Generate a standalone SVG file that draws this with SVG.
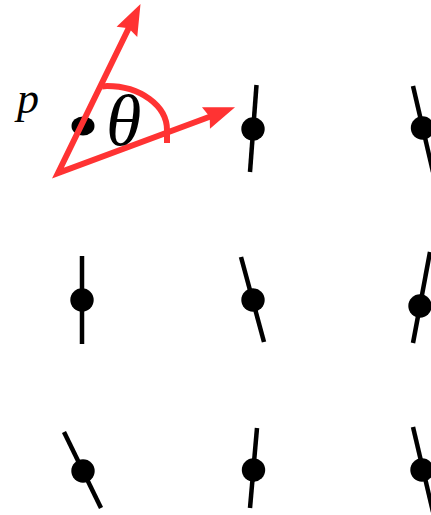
<svg xmlns="http://www.w3.org/2000/svg" width="431" height="515" viewBox="0 0 431 515">
<defs>
<style>
.rod{stroke:#000;stroke-width:4.5;stroke-linecap:butt;fill:none}
.dot{fill:#000}
.red{stroke:#ff3333;stroke-width:6;fill:none}
.lbl{font-family:"Liberation Serif",serif;font-style:italic;fill:#000}
</style>
<marker id="ah" viewBox="-12 -14 36 28" refX="0" refY="0" markerWidth="36" markerHeight="28" markerUnits="userSpaceOnUse" orient="auto-start-reverse">
<path d="M22,0 L-9,-11.5 L-5,0 L-9,11.5 Z" fill="#ff3333"/>
</marker>
</defs>
<rect width="431" height="515" fill="#fff"/>
<g id="spin-1-1"><ellipse class="dot" cx="83" cy="126" rx="11.5" ry="9.5"/></g>
<g id="spin-1-2"><line class="rod" x1="256.5" y1="85" x2="250" y2="172"/><circle class="dot" cx="253" cy="129" r="11.7"/></g>
<g id="spin-1-3"><line class="rod" x1="413" y1="86" x2="433" y2="172"/><circle class="dot" cx="422.5" cy="128" r="11.7"/></g>
<g id="spin-2-1"><line class="rod" x1="82" y1="256" x2="82" y2="344"/><circle class="dot" cx="82" cy="300" r="11.7"/></g>
<g id="spin-2-2"><line class="rod" x1="241" y1="257" x2="264" y2="342"/><circle class="dot" cx="253" cy="300" r="11.7"/></g>
<g id="spin-2-3"><line class="rod" x1="430" y1="252" x2="413" y2="343"/><circle class="dot" cx="420" cy="306" r="11.7"/></g>
<g id="spin-3-1"><line class="rod" x1="64" y1="432" x2="101" y2="508"/><circle class="dot" cx="83" cy="471" r="11.7"/></g>
<g id="spin-3-2"><line class="rod" x1="257" y1="428" x2="250" y2="508"/><circle class="dot" cx="253.5" cy="470" r="11.7"/></g>
<g id="spin-3-3"><line class="rod" x1="413" y1="427" x2="433" y2="512"/><circle class="dot" cx="422" cy="470" r="11.7"/></g>
<g id="connectors">
<path class="red" d="M130.85,23.77 L58,173 L214.4,114.96" stroke-linejoin="miter" stroke-miterlimit="10" marker-start="url(#ah)" marker-end="url(#ah)"/>
<path class="red" d="M102,86.5 Q106,86 107,86 A60 44 0 0 1 167,130 L167,143"/>
</g>
<g id="labels">
<text class="lbl" x="17" y="113" font-size="44">p</text>
<text class="lbl" x="106" y="145" font-size="72">θ</text>
</g>
</svg>
